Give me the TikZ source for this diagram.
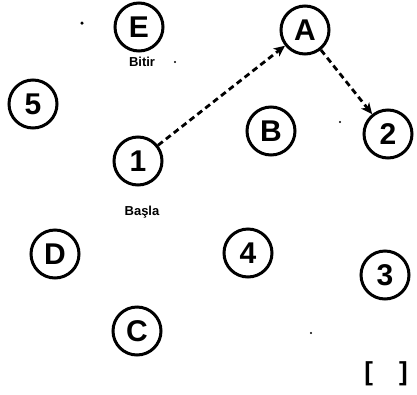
\documentclass[tikz,border=0pt]{standalone}
\usepackage{fontspec}
\setmainfont{Liberation Sans}
\usetikzlibrary{arrows.meta}
\tikzset{
  ring/.style={circle, draw=black, line width=3pt, minimum size=48pt, inner sep=0pt,
    font=\fontsize{30}{30}\selectfont\bfseries},
  lbl/.style={inner sep=0pt, font=\fontsize{13}{13}\selectfont\bfseries},
  flow/.style={line width=2.8pt, dash pattern=on 6pt off 4pt,
    -{Stealth[length=11pt,width=10pt,inset=3pt]}},
  speck/.style={fill=black, inner sep=0pt, circle, minimum size=2.2pt}
}
\begin{document}
\begin{tikzpicture}[x=1pt,y=-1pt]
\useasboundingbox (0,0) rectangle (417,394);
\node[ring] (nE) at (139,27) {E};
\node[ring] (nA) at (305,30) {A};
\node[ring] (n5) at (33,104) {5};
\node[ring] (nB) at (271,131) {B};
\node[ring] (n2) at (388,134) {2};
\node[ring] (n1) at (138,161) {1};
\node[ring] (nD) at (55,254) {D};
\node[ring] (n4) at (248,253) {4};
\node[ring] (n3) at (385,275) {3};
\node[ring] (nC) at (137,331) {C};
\node[lbl] (bitir) at (142,62) {Bitir};
\node[lbl] (basla) at (142,212) {Başla};
\node[inner sep=0pt, font=\fontsize{26}{26}\selectfont\bfseries] (br) at (386,374) {[\hspace{26pt}]};
\draw[flow] (n1) -- (nA);
\draw[flow] (nA) -- (n2);
\node[speck, minimum size=3.5pt] (s1) at (82,23) {};
\node[speck] (s2) at (311,333) {};
\node[speck] (s3) at (340,122) {};
\node[speck] (s4) at (175,62) {};
\end{tikzpicture}
\end{document}
